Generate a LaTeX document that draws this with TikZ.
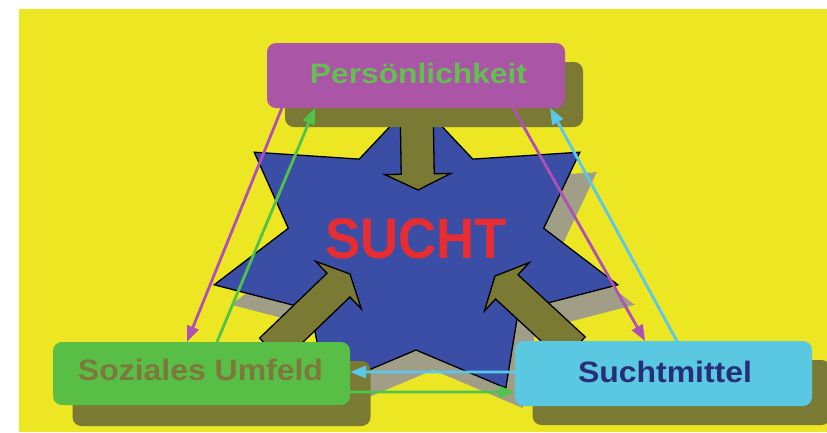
\documentclass[tikz,border=0pt]{standalone}
\usepackage{fontspec}
\setmainfont{Liberation Sans}
\newfontfamily\persfont{Liberation Sans}[FakeStretch=1.134]
\newfontfamily\boxfont{Liberation Sans}[FakeStretch=1.083]
\newfontfamily\centerfont{Liberation Sans}[FakeStretch=0.927]
\usetikzlibrary{calc,arrows.meta}

\definecolor{bgyellow}{RGB}{236,230,35}
\definecolor{starblue}{RGB}{58,78,165}
\definecolor{starshade}{RGB}{160,158,135}
\definecolor{olivefill}{RGB}{122,122,52}
\definecolor{magbox}{RGB}{170,85,165}
\definecolor{greenbox}{RGB}{88,190,70}
\definecolor{cyanbox}{RGB}{90,200,225}
\definecolor{perstext}{RGB}{100,190,80}
\definecolor{soztext}{RGB}{125,120,60}
\definecolor{suchttext}{RGB}{40,45,120}
\definecolor{suchtred}{RGB}{232,45,50}
\definecolor{magline}{RGB}{175,80,180}
\definecolor{greenline}{RGB}{80,195,75}
\definecolor{cyanline}{RGB}{90,200,235}

\tikzset{
  box/.style={rounded corners=9pt, inner sep=0pt, outer sep=0pt,
              minimum width=298pt, minimum height=65pt},
  boxshade/.style={box, fill=olivefill},
  fatarrow/.style={fill=olivefill, draw=black, line width=1.3pt, line join=miter},
  link/.style={line width=2.8pt, -{Triangle[length=16pt,width=12pt]}},
  startype/.style={draw=black, line width=1.3pt, fill=starblue, line join=miter},
}

% broad olive arrow: #1 name, #2 start coordinate, #3 tip coordinate
\newcommand\fatarrow[3]{%
  \coordinate (#1-base) at ($(#3)!16pt!(#2)$);
  \filldraw[fatarrow]
    ($(#2)!16.5pt!90:(#3)$) --
    ($(#1-base)!16.5pt!90:(#3)$) --
    ($(#1-base)!33pt!90:(#3)$) --
    (#3) --
    ($(#1-base)!33pt!-90:(#3)$) --
    ($(#1-base)!16.5pt!-90:(#3)$) --
    ($(#2)!16.5pt!-90:(#3)$) -- cycle;
}

% seven-pointed star outline
\newcommand\starpath{%
  (416,99) -- (359.2,159.1) -- (254.2,152.2) -- (288.3,228.3) --
  (214.2,284.8) -- (310.6,309.6) -- (326.2,388.0) -- (416,350) --
  (505.8,388.0) -- (518.4,310.6) -- (617.8,284.8) -- (543.7,228.3) --
  (579.8,152.2) -- (472.8,159.1) -- cycle}

\begin{document}
\begin{tikzpicture}[x=1pt,y=-1pt]
  \useasboundingbox (0,0) rectangle (827,432);
  \clip (0,0) rectangle (827,432);
  \fill[white] (0,0) rectangle (827,432);
  \fill[bgyellow] (19,9) rectangle (827,432);

  % star with its shadow
  \begin{scope}[shift={(17,20)}]
    \fill[starshade] \starpath;
  \end{scope}
  \path[startype] \starpath;

  % broad arrows pointing into the star
  \coordinate (topS) at (416.5,100);
  \coordinate (topT) at (418,190);
  \coordinate (leftS) at (271,350);
  \coordinate (leftT) at (350,274);
  \coordinate (rightS) at (574,349);
  \coordinate (rightT) at (495,276);
  \fatarrow{toparrow}{topS}{topT}
  \fatarrow{leftarrow}{leftS}{leftT}
  \fatarrow{rightarrow}{rightS}{rightT}

  % boxes with their shadows
  \node[boxshade] (pers-shade) at (434,94.5) {};
  \node[boxshade] (soz-shade)  at (221.5,393.5) {};
  \node[boxshade] (mittel-shade) at (681.5,392.5) {};
  \node[box, fill=magbox]   (pers)   at (416,75.5) {};
  \node[box, fill=greenbox, minimum width=297pt, minimum height=63pt] (soz) at (201.5,373.5) {};
  \node[box, fill=cyanbox,  minimum width=297pt] (mittel) at (663.5,373.5) {};

  % labels
  \node[anchor=base, inner sep=0pt, text=perstext,
        font=\persfont\bfseries\fontsize{28}{30}\selectfont] (pers-label) at (418.5,83) {Persönlichkeit};
  \node[anchor=base, inner sep=0pt, text=soztext,
        font=\boxfont\bfseries\fontsize{29.5}{31}\selectfont] (soz-label) at (200.5,380) {Soziales Umfeld};
  \node[anchor=base, inner sep=0pt, text=suchttext,
        font=\boxfont\bfseries\fontsize{29.5}{31}\selectfont] (mittel-label) at (665,382) {Suchtmittel};
  \node[anchor=base, inner sep=0pt, text=suchtred,
        font=\centerfont\bfseries\fontsize{57}{60}\selectfont] (sucht) at (416,258) {SUCHT};

  % connectors between the three boxes
  \draw[link, magline]
    ($(pers.south west)!0.05!(pers.south east)$) -- ($(soz.north west)!0.451!(soz.north east)$);
  \draw[link, greenline]
    ($(soz.north west)!0.552!(soz.north east)$) -- ($(pers.south west)!0.161!(pers.south east)$);
  \draw[link, magline]
    ($(pers.south west)!0.826!(pers.south east)$) -- ($(mittel.north west)!0.438!(mittel.north east)$);
  \draw[link, cyanline]
    ($(mittel.north west)!0.545!(mittel.north east)$) -- ($(pers.south west)!0.95!(pers.south east)$);
  \draw[link, cyanline]
    ($(mittel.north west)!0.477!(mittel.south west)$) -- ($(soz.north east)!0.476!(soz.south east)$);
  \draw[link, greenline]
    ($(soz.north east)!0.794!(soz.south east)$) -- ($(mittel.north west)!0.785!(mittel.south west)$);
\end{tikzpicture}
\end{document}
